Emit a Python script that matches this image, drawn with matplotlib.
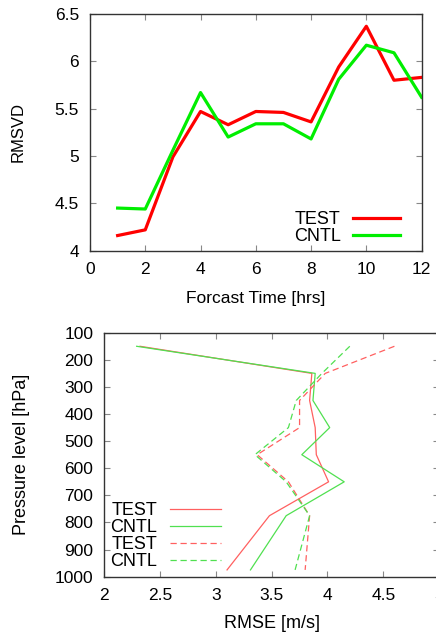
import numpy as np
import matplotlib
matplotlib.use('Agg')
from matplotlib import pyplot as plt

plt.rcParams['font.family'] = ['Liberation Sans', 'DejaVu Sans']

# top panel: RMSVD vs forecast time
hours = [1, 2, 3, 4, 5, 6, 7, 8, 9, 10, 11, 12]
rmsvd_test = [4.16, 4.22, 4.99, 5.47, 5.33, 5.47, 5.46, 5.36, 5.94, 6.37, 5.80, 5.83]
rmsvd_cntl = [4.45, 4.44, 5.06, 5.67, 5.20, 5.34, 5.34, 5.18, 5.81, 6.17, 6.09, 5.62]

# bottom panel: RMSE profiles
levels = [150, 250, 350, 450, 550, 650, 775, 975]
rmse_test = [2.32, 3.86, 3.84, 3.89, 3.90, 4.01, 3.48, 3.10]
rmse_cntl = [2.29, 3.89, 3.87, 4.02, 3.77, 4.15, 3.63, 3.31]
rmse_test2 = [4.60, 3.98, 3.75, 3.75, 3.37, 3.65, 3.84, 3.80]
rmse_cntl2 = [4.20, 3.95, 3.72, 3.65, 3.35, 3.63, 3.84, 3.71]

fig = plt.figure(figsize=(4.36, 6.34), dpi=100)

def style(ax, size):
    ax.tick_params(direction='in', top=True, right=True, length=4,
                   color='#888888', labelsize=size, pad=8)
    for s in ax.spines.values():
        s.set_color('#333333')
        s.set_linewidth(1.0)

ax1 = fig.add_axes([0.2064, 0.6046, 0.7606, 0.3734])
ax1.plot(hours, rmsvd_test, color='#ff0000', lw=2.3, label='TEST')
ax1.plot(hours, rmsvd_cntl, color='#00ee00', lw=2.3, label='CNTL')
ax1.set_xlim(0, 12)
ax1.set_ylim(4, 6.5)
ax1.set_xticks(range(0, 13, 2))
ax1.set_yticks([4, 4.5, 5, 5.5, 6, 6.5])
ax1.set_yticklabels(['4', '4.5', '5', '5.5', '6', '6.5'])
style(ax1, 12.5)
ax1.set_xlabel('Forcast Time [hrs]', fontsize=12.5, labelpad=10)
ax1.set_ylabel('RMSVD', fontsize=12, labelpad=21)
leg1 = ax1.legend(loc='lower right', frameon=False, fontsize=13,
                  markerfirst=False, handlelength=2.6, handletextpad=0.7,
                  labelspacing=0.0, bbox_to_anchor=(0.985, -0.045))
for t in leg1.get_texts():
    t.set_ha('right')

ax2 = fig.add_axes([0.2392, 0.0904, 0.7678, 0.3848])
ax2.plot(rmse_test, levels, color='#ff6060', lw=0.9, label='TEST')
ax2.plot(rmse_cntl, levels, color='#50e050', lw=0.9, label='CNTL')
ax2.plot(rmse_test2, levels, color='#ff6060', lw=0.9, ls=(0, (5, 3)), label='TEST')
ax2.plot(rmse_cntl2, levels, color='#50e050', lw=0.9, ls=(0, (5, 3)), label='CNTL')
ax2.set_xlim(2, 5)
ax2.set_ylim(1000, 100)
ax2.set_xticks([2, 2.5, 3, 3.5, 4, 4.5, 5])
ax2.set_xticklabels(['2', '2.5', '3', '3.5', '4', '4.5', '5'])
ax2.set_yticks(range(100, 1001, 100))
style(ax2, 12.5)
ax2.set_xlabel('RMSE [m/s]', fontsize=13, labelpad=9)
ax2.set_ylabel('Pressure level [hPa]', fontsize=13, labelpad=18)
ax2.legend(loc='lower left', frameon=False, fontsize=13, markerfirst=False,
           handlelength=2.8, handletextpad=0.7, labelspacing=0.0,
           bbox_to_anchor=(-0.03, -0.04))

fig.savefig('out.png', dpi=100)
